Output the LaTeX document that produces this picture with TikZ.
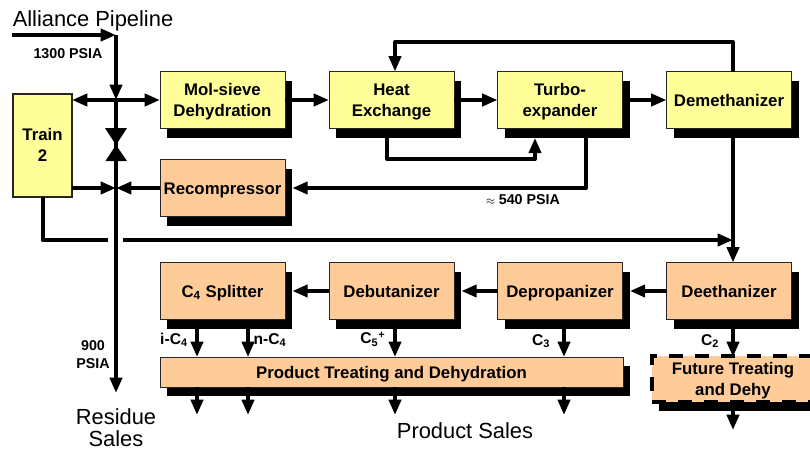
\documentclass[tikz,border=0pt]{standalone}
\usepackage{fontspec}
\setmainfont{Liberation Sans}
\usetikzlibrary{arrows.meta,shadows}
\definecolor{unityellow}{HTML}{FFFF99}
\definecolor{unitorange}{HTML}{FFCC99}
\newcommand{\twolines}[2]{\rule{0pt}{14pt}#1\\#2\rule[-4.2pt]{0pt}{4.2pt}}
\tikzset{
  unitplain/.style={draw=black!85,line width=.7pt,inner sep=0pt,outer sep=0pt,align=center,
    font=\fontsize{12.6}{15.4}\selectfont\bfseries,minimum width=93.75pt,minimum height=42.75pt,
    execute at begin node={\rule{0pt}{14pt}},execute at end node=\strut},
  unitbox/.style={unitplain,
    copy shadow={opacity=1,shadow xshift=5.5pt,shadow yshift=-7pt,fill=black,draw=none}},
  yellowunit/.style={unitbox,fill=unityellow},
  orangeunit/.style={unitbox,fill=unitorange},
  pipe/.style={line width=3pt,line join=round},
  flow/.style={pipe,-{Triangle[length=11.5pt,width=9pt]}},
  toshadowx/.style={shorten >=5.5pt},
  toshadowy/.style={shorten >=7pt},
  tag/.style={font=\fontsize{10.7}{13.4}\selectfont\bfseries,align=center,inner sep=0pt},
  streamtag/.style={font=\fontsize{11.7}{14}\selectfont\bfseries,inner sep=0pt},
  bigtag/.style={font=\fontsize{16.4}{19}\selectfont,align=center,inner sep=0pt},
}
\begin{document}
\begin{tikzpicture}[x=.75pt,y=-.75pt]
  \useasboundingbox (0,0) rectangle (810,450);
  % texts
  \node[bigtag] at(93,21)(alliance){Alliance Pipeline};
  \node[bigtag] at(116,417)(residue){Residue};
  \node[bigtag] at(116,439)(sales){Sales};
  \node[bigtag] at(465,431)(product){Product Sales};
  \node[tag] at(68,54)(p1300){1300 PSIA};
  \node[tag] at(523,200)(p540){{\fontsize{8}{8}\selectfont$\approx$} 540 PSIA};
  \node[tag] at(93,355)(p900){900\\PSIA};
  \node[streamtag] at(174,340)(ic4){i-C\textsubscript{4}};
  \node[streamtag] at(270,340)(nc4){n-C\textsubscript{4}};
  \node[streamtag] at(373,339)(c5){C\textsubscript{5}\textsuperscript{+}};
  \node[streamtag] at(541,341)(c3){C\textsubscript{3}};
  \node[streamtag] at(710,341)(c2){C\textsubscript{2}};
  % upper units
  \node[yellowunit] at(222.5,100)(molsieve){\twolines{Mol-sieve}{Dehydration}};
  \node[yellowunit] at(391.5,100)(heatex){\twolines{Heat}{Exchange}};
  \node[yellowunit] at(560,100)(turbo){\twolines{Turbo-}{expander}};
  \node[yellowunit] at(729,100)(demeth){Demethanizer};
  \node[orangeunit] at(222.5,188)(recomp){Recompressor};
  \node[unitplain,fill=unityellow,minimum width=44.25pt,minimum height=77.25pt,line width=1.5pt] at(42.5,145)(train){\twolines{Train}{2}};
  % lower units
  \node[orangeunit] at(222.5,291)(c4split){C\textsubscript{4} Splitter};
  \node[orangeunit] at(391.5,291)(debut){Debutanizer};
  \node[orangeunit] at(560,291)(deprop){Depropanizer};
  \node[orangeunit] at(729,291)(deeth){Deethanizer};
  \node[orangeunit,minimum width=347.25pt,minimum height=22.5pt] at(391.5,372)(treat){Product Treating and Dehydration};
  \node[orangeunit,minimum width=121.5pt,minimum height=33pt,dash pattern=on 10.5pt off 9pt,line width=3pt,draw=black] at(733,379)(future){\twolines{Future Treating}{and Dehy}};
  % free ends and bends
  \coordinate (inlet) at(12,35);
  \coordinate (pipetop) at(116,35);
  \coordinate (pipejoin) at(116,100);
  \coordinate (recjoin) at(116,188);
  \coordinate (pipeend) at(116,393);
  \coordinate (trainbend) at(42.5,240);
  \coordinate (gapl) at(108,240);
  \coordinate (gapr) at(123,240);
  \coordinate (demjoin) at(733,240);
  \coordinate (recycler) at(733,42);
  \coordinate (recyclel) at(395,42);
  \coordinate (bypassl) at(387,159);
  \coordinate (bypassr) at(535,159);
  \coordinate (turbobend) at(586,188);
  \coordinate (ic4in) at(197,357);
  \coordinate (nc4in) at(248,357);
  \coordinate (c5in) at(395,357);
  \coordinate (c3in) at(564,357);
  \coordinate (c2in) at(733,357);
  \coordinate (ic4out) at(197,415);
  \coordinate (nc4out) at(248,415);
  \coordinate (c5out) at(395,415);
  \coordinate (c3out) at(564,415);
  \coordinate (c2out) at(733,430);
  \coordinate (valvetl) at(105,128);
  \coordinate (valvetr) at(127,128);
  \coordinate (valvemid) at(116,145);
  \coordinate (valvebl) at(105.5,161);
  \coordinate (valvebr) at(127,161);
  % residue line
  \draw[flow] (inlet) -- (pipetop);
  \draw[flow] (pipetop) -- (pipejoin);
  \draw[flow] (pipejoin) -- (pipeend);
  \draw[flow] (pipejoin) -- (train.east |- pipejoin);
  \draw[flow] (pipejoin) -- (molsieve.west);
  \draw[flow] (train.east |- recjoin) -- (recjoin);
  \draw[flow] (recomp.west) -- (recjoin);
  \fill (valvetl) -- (valvetr) -- (valvemid) -- cycle;
  \fill (valvebl) -- (valvebr) -- (valvemid) -- cycle;
  % train 2 line
  \draw[pipe] (train.south) -- (trainbend) -- (gapl);
  \draw[flow] (gapr) -- (demjoin);
  % upper row
  \draw[flow] (molsieve.east) -- (heatex.west);
  \draw[flow] (heatex.east) -- (turbo.west);
  \draw[flow] (turbo.east) -- (demeth.west);
  \draw[flow] (recycler |- demeth.north) -- (recycler) -- (recyclel) -- (recyclel |- heatex.north);
  \draw[flow,toshadowy] (bypassl |- heatex.south) -- (bypassl) -- (bypassr) -- (bypassr |- turbo.south);
  \draw[flow,toshadowx] (turbobend |- turbo.south) -- (turbobend) -- (recomp.east);
  \draw[flow] (demjoin |- demeth.south) -- (demjoin |- deeth.north);
  % lower row
  \draw[flow,toshadowx] (deeth.west) -- (deprop.east);
  \draw[flow,toshadowx] (deprop.west) -- (debut.east);
  \draw[flow,toshadowx] (debut.west) -- (c4split.east);
  % products
  \draw[flow] (ic4in |- c4split.south) -- (ic4in);
  \draw[flow] (nc4in |- c4split.south) -- (nc4in);
  \draw[flow] (c5in |- debut.south) -- (c5in);
  \draw[flow] (c3in |- deprop.south) -- (c3in);
  \draw[flow] (c2in |- deeth.south) -- (c2in);
  \draw[flow] (ic4out |- treat.south) -- (ic4out);
  \draw[flow] (nc4out |- treat.south) -- (nc4out);
  \draw[flow] (c5out |- treat.south) -- (c5out);
  \draw[flow] (c3out |- treat.south) -- (c3out);
  \draw[flow] (c2out |- future.south) -- (c2out);
\end{tikzpicture}
\end{document}
